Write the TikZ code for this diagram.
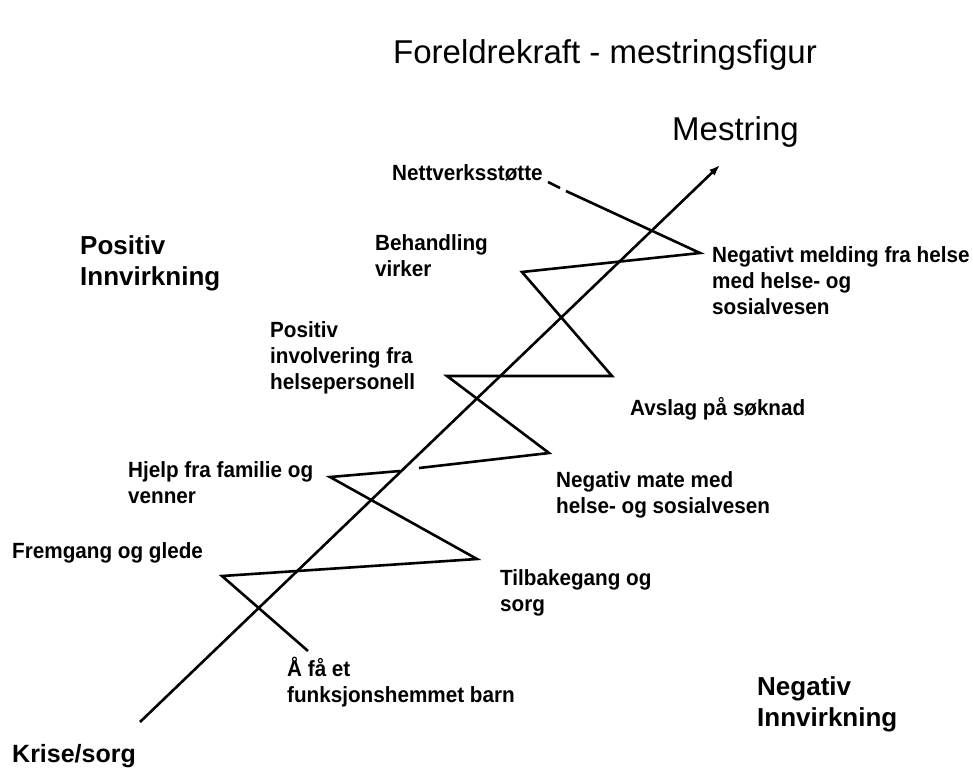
\documentclass[tikz,border=0pt]{standalone}
\usepackage{fontspec}
\setmainfont{Liberation Sans}
\newfontfamily\lblfont[FakeStretch=0.94]{Liberation Sans Bold}
\usetikzlibrary{arrows.meta}
\begin{document}
\begin{tikzpicture}[x=1pt,y=-1pt,
  lbl/.style={anchor=base west,inner sep=0pt,align=left,font=\lblfont\fontsize{22}{26}\selectfont},
  big/.style={anchor=base west,inner sep=0pt,align=left,font=\fontsize{26}{31}\selectfont\bfseries},
  zz/.style={line width=2.6pt,line join=miter,line cap=butt},
  main/.style={line width=2.6pt,-{Latex[length=11pt,width=8pt]}}]
\useasboundingbox (0,0) rectangle (973,772);
% titles (base anchor of a multi-line node = baseline of its last line)
\node[anchor=base,inner sep=0pt,font=\fontsize{33}{38}\selectfont] (title) at (605,63) {Foreldrekraft - mestringsfigur};
\node[anchor=base west,inner sep=0pt,font=\fontsize{33}{38}\selectfont] (mestring) at (672,140) {Mestring};
\node[big] (pos) at (80,285) {Positiv\\Innvirkning};
\node[big] (neg) at (757,726) {Negativ\\Innvirkning};
\node[big,font=\fontsize{25}{30}\selectfont\bfseries] (krise) at (12,762) {Krise/sorg};
% labels
\node[lbl] (nett) at (392,180) {Nettverksstøtte};
\node[lbl] (beh) at (375,276) {Behandling\\virker};
\node[lbl] (posinv) at (270,389) {Positiv\\involvering fra\\helsepersonell};
\node[lbl] (negmeld) at (712,314) {Negativt melding fra helse\\med helse- og\\sosialvesen};
\node[lbl] (avslag) at (630,415) {Avslag på søknad};
\node[lbl] (hjelp) at (128,503) {Hjelp fra familie og\\venner};
\node[lbl] (negmote) at (556,513) {Negativ mate med\\helse- og sosialvesen};
\node[lbl] (frem) at (12,558) {Fremgang og glede};
\node[lbl] (tilb) at (500,611) {Tilbakegang og\\sorg};
\node[lbl] (afa) at (287,702) {Å få et\\funksjonshemmet barn};
% main arrow
\coordinate (start) at (140,722);
\coordinate (goal) at (720,165);
\draw[main] (start) -- (goal);
% zigzag
\coordinate (p0) at (548,182);
\coordinate (p0a) at (560,188);
\coordinate (p0b) at (566,191);
\coordinate (p1) at (700,253);
\coordinate (p2) at (522,272);
\coordinate (p3) at (612,376);
\coordinate (p4) at (447,376);
\coordinate (p5) at (549,453);
\coordinate (g1) at (419,468);
\coordinate (g2) at (400,471);
\coordinate (p6) at (330,477);
\coordinate (p7) at (477,559);
\coordinate (p8) at (222,576);
\coordinate (p9) at (308,651);
\draw[zz] (p0) -- (p0a);
\draw[zz] (p0b) -- (p1) -- (p2) -- (p3) -- (p4) -- (p5) -- (g1);
\draw[zz] (g2) -- (p6) -- (p7) -- (p8) -- (p9);
\end{tikzpicture}
\end{document}
